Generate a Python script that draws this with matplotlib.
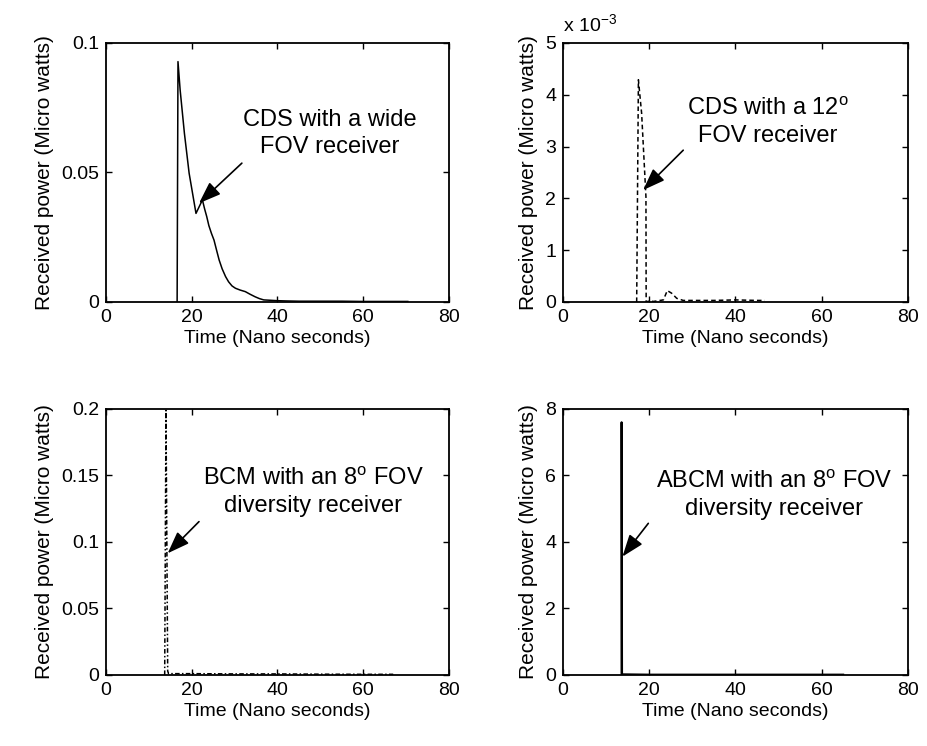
import matplotlib
matplotlib.use("Agg")
import matplotlib.pyplot as plt

plt.rcParams['font.family'] = ['Liberation Sans', 'DejaVu Sans']
plt.rcParams['mathtext.fontset'] = 'custom'
plt.rcParams['mathtext.rm'] = 'Liberation Sans'
plt.rcParams['mathtext.it'] = 'Liberation Sans'

# CDS, wide FOV receiver
t_cds_wide = [16.6, 16.8, 17.3, 18.3, 19.4, 21.0, 22.5, 23.0, 23.5, 24.0, 24.6, 25.2, 25.8,
              26.4, 27.1, 27.9, 28.6, 29.4, 30.2, 31.3, 32.5, 33.6, 34.8, 35.8, 36.8, 40.0,
              42.0, 45.0, 50.0, 55.0, 60.0, 65.0, 70.4]
p_cds_wide = [0.0, 0.0928, 0.0819, 0.0651, 0.0497, 0.0342, 0.0394, 0.0360, 0.0330, 0.0295,
              0.0265, 0.0239, 0.0200, 0.0162, 0.0128, 0.0098, 0.0078, 0.0062, 0.0053, 0.0046,
              0.0040, 0.0030, 0.0020, 0.0013, 0.0008, 0.0005, 0.0004, 0.0003, 0.0003, 0.0003,
              0.0002, 0.0002, 0.0002]

# CDS, 12 deg FOV receiver
t_cds_12 = [17.1, 17.5, 18.25, 19.25, 19.3, 20.0, 21.0, 22.5, 23.3, 24.2, 25.2, 26.4, 27.9,
            30.0, 35.0, 40.0, 45.0, 46.8]
p_cds_12 = [0.0, 4.29e-3, 3.64e-3, 2.03e-3, 0.0, 0.02e-3, 0.01e-3, 0.03e-3, 0.04e-3, 0.22e-3,
            0.17e-3, 0.07e-3, 0.03e-3, 0.03e-3, 0.03e-3, 0.04e-3, 0.03e-3, 0.03e-3]

# BCM, 8 deg FOV diversity receiver
t_bcm = [13.7, 14.0, 14.4, 14.6, 20.0, 30.0, 40.0, 50.0, 60.0, 67.0]
p_bcm = [0.0, 0.199, 0.003, 0.001, 0.001, 0.0008, 0.0008, 0.0006, 0.0005, 0.0005]

# ABCM, 8 deg FOV diversity receiver
t_abcm = [13.6, 13.6, 13.7, 20.0, 30.0, 40.0, 50.0, 60.0, 65.0]
p_abcm = [0.0, 7.6, 0.02, 0.01, 0.01, 0.01, 0.01, 0.01, 0.01]

x_ticks = [0, 20, 40, 60, 80]
y_ticks_tl = [0, 0.05, 0.1]
y_labels_tl = ['0', '0.05', '0.1']
y_ticks_tr = [0, 1e-3, 2e-3, 3e-3, 4e-3, 5e-3]
y_labels_tr = ['0', '1', '2', '3', '4', '5']
y_ticks_bl = [0, 0.05, 0.1, 0.15, 0.2]
y_labels_bl = ['0', '0.05', '0.1', '0.15', '0.2']
y_ticks_br = [0, 2, 4, 6, 8]
y_labels_br = ['0', '2', '4', '6', '8']

fig = plt.figure(figsize=(9.27, 7.46), dpi=100)
ax1 = fig.add_axes([0.1143, 0.5952, 0.370, 0.3472])
ax2 = fig.add_axes([0.6073, 0.5952, 0.372, 0.3472])
ax3 = fig.add_axes([0.1143, 0.0952, 0.370, 0.3566])
ax4 = fig.add_axes([0.6073, 0.0952, 0.372, 0.3566])

ax1.plot(t_cds_wide, p_cds_wide, color='black', lw=1.1, ls='-')
ax2.plot(t_cds_12, p_cds_12, color='black', lw=1.1, ls='--', dashes=(3, 2))
ax3.plot(t_bcm, p_bcm, color='black', lw=1.1, ls='-.', dashes=(3, 1.5, 1, 1.5))
ax4.plot(t_abcm, p_abcm, color='black', lw=1.5, ls='-')

setup = [(ax1, y_ticks_tl, y_labels_tl), (ax2, y_ticks_tr, y_labels_tr),
         (ax3, y_ticks_bl, y_labels_bl), (ax4, y_ticks_br, y_labels_br)]
for ax, yt, yl in setup:
    ax.set_xlim(0, 80)
    ax.set_ylim(yt[0], yt[-1])
    ax.set_xticks(x_ticks)
    ax.set_yticks(yt)
    ax.set_yticklabels(yl)
    ax.tick_params(direction='in', top=True, right=True, length=4, width=1,
                   labelsize=14, pad=5)
    for s in ax.spines.values():
        s.set_linewidth(1.3)
    ax.set_xlabel('Time (Nano seconds)', fontsize=14, labelpad=3)
    ax.set_ylabel('Received power (Micro watts)', fontsize=15, labelpad=5)

ax2.text(0.0, 1.03, r'x 10$^{-3}$', transform=ax2.transAxes, fontsize=14,
         ha='left', va='bottom')

arrow = dict(arrowstyle='-|>,head_length=0.9,head_width=0.33', color='black', lw=1.2,
             shrinkA=0, shrinkB=0, mutation_scale=15)
fs = 17

ax1.text(52.3, 0.0649, 'CDS with a wide\nFOV receiver', fontsize=fs, ha='center',
         va='center', linespacing=1.3)
ax1.annotate('', xy=(21.7, 0.0381), xytext=(31.7, 0.0536), arrowprops=arrow)

ax2.text(47.5, 3.46e-3, 'CDS with a 12$^{\\mathrm{o}}$\nFOV receiver', fontsize=fs,
         ha='center', va='center', linespacing=1.3)
ax2.annotate('', xy=(18.6, 2.16e-3), xytext=(27.9, 2.93e-3), arrowprops=arrow)

ax3.text(48.3, 0.1376, 'BCM with an 8$^{\\mathrm{o}}$ FOV\ndiversity receiver', fontsize=fs,
         ha='center', va='center', linespacing=1.3)
ax3.annotate('', xy=(14.4, 0.0915), xytext=(21.7, 0.1153), arrowprops=arrow)

ax4.text(48.9, 5.41, 'ABCM with an 8$^{\\mathrm{o}}$ FOV\ndiversity receiver', fontsize=fs,
         ha='center', va='center', linespacing=1.3)
ax4.annotate('', xy=(13.8, 3.56), xytext=(19.8, 4.56), arrowprops=arrow)

fig.savefig('out.png', dpi=100)
